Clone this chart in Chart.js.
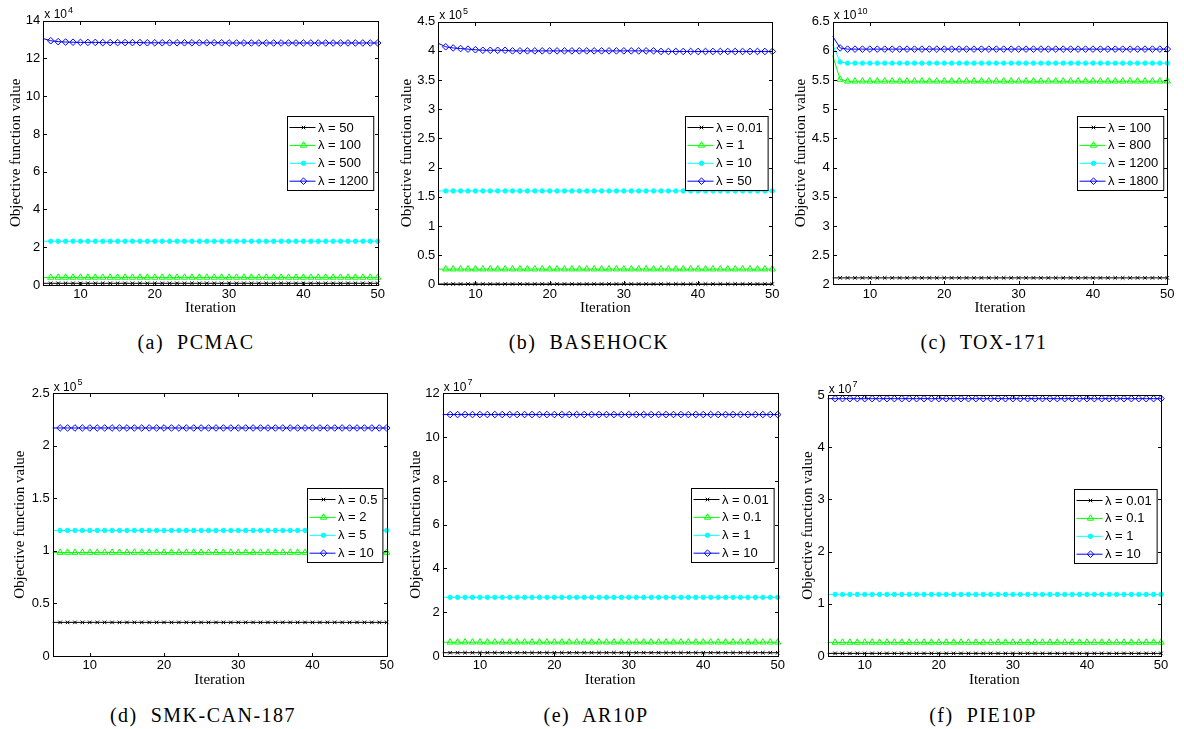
<!DOCTYPE html>
<html>
<head>
<meta charset="utf-8">
<title>Objective function value vs. iteration</title>
<script src="https://cdn.jsdelivr.net/npm/chart.js@4.4.1/dist/chart.umd.min.js"></script>
<style>
  html, body { margin: 0; padding: 0; background: #fff; }
  #page { position: relative; width: 1184px; height: 729px; overflow: hidden; }
  #page canvas { position: absolute; }
  .caption {
    position: absolute; transform: translate(-50%, -50%);
    font-family: 'Liberation Serif', serif; font-size: 20px;
    letter-spacing: 1.5px; white-space: pre; color: #000;
  }
</style>
</head>
<body>
<div id="page"></div>
<script>
// ── Shared axis data ────────────────────────────────────────────────
const iterations = [
  5, 6, 7, 8, 9, 10, 11, 12, 13, 14,
  15, 16, 17, 18, 19, 20, 21, 22, 23, 24,
  25, 26, 27, 28, 29, 30, 31, 32, 33, 34,
  35, 36, 37, 38, 39, 40, 41, 42, 43, 44,
  45, 46, 47, 48, 49, 50,
];
const xTicks = [10, 20, 30, 40, 50];

// ── (a) PCMAC, values x 10^4 ────────────────────────────────────────
const pcmacLambdas = [50, 100, 500, 1200];
const pcmacYTicks = [0, 2, 4, 6, 8, 10, 12, 14];
const pcmacLam50 = [
  0.09, 0.09, 0.09, 0.09, 0.09, 0.09, 0.09, 0.09, 0.09, 0.09,
  0.09, 0.09, 0.09, 0.09, 0.09, 0.09, 0.09, 0.09, 0.09, 0.09,
  0.09, 0.09, 0.09, 0.09, 0.09, 0.09, 0.09, 0.09, 0.09, 0.09,
  0.09, 0.09, 0.09, 0.09, 0.09, 0.09, 0.09, 0.09, 0.09, 0.09,
  0.09, 0.09, 0.09, 0.09, 0.09, 0.09,
];
const pcmacLam100 = [
  0.40, 0.40, 0.40, 0.40, 0.40, 0.40, 0.40, 0.40, 0.40, 0.40,
  0.40, 0.40, 0.40, 0.40, 0.40, 0.40, 0.40, 0.40, 0.40, 0.40,
  0.40, 0.40, 0.40, 0.40, 0.40, 0.40, 0.40, 0.40, 0.40, 0.40,
  0.40, 0.40, 0.40, 0.40, 0.40, 0.40, 0.40, 0.40, 0.40, 0.40,
  0.40, 0.40, 0.40, 0.40, 0.40, 0.40,
];
const pcmacLam500 = [
  2.32, 2.32, 2.32, 2.32, 2.32, 2.32, 2.32, 2.32, 2.32, 2.32,
  2.32, 2.32, 2.32, 2.32, 2.32, 2.32, 2.32, 2.32, 2.32, 2.32,
  2.32, 2.32, 2.32, 2.32, 2.32, 2.32, 2.32, 2.32, 2.32, 2.32,
  2.32, 2.32, 2.32, 2.32, 2.32, 2.32, 2.32, 2.32, 2.32, 2.32,
  2.32, 2.32, 2.32, 2.32, 2.32, 2.32,
];
const pcmacLam1200 = [
  13.05, 12.94, 12.89, 12.87, 12.86, 12.85, 12.85, 12.85, 12.84, 12.84,
  12.84, 12.84, 12.84, 12.84, 12.83, 12.83, 12.83, 12.83, 12.83, 12.83,
  12.83, 12.83, 12.83, 12.83, 12.83, 12.82, 12.82, 12.82, 12.82, 12.82,
  12.82, 12.82, 12.82, 12.82, 12.82, 12.82, 12.82, 12.82, 12.82, 12.82,
  12.82, 12.82, 12.82, 12.82, 12.82, 12.82,
];

// ── (b) BASEHOCK, values x 10^5 ─────────────────────────────────────
const basehockLambdas = [0.01, 1, 10, 50];
const basehockYTicks = [0, 0.5, 1, 1.5, 2, 2.5, 3, 3.5, 4, 4.5];
const basehockLam001 = [
  0.005, 0.005, 0.005, 0.005, 0.005, 0.005, 0.005, 0.005, 0.005, 0.005,
  0.005, 0.005, 0.005, 0.005, 0.005, 0.005, 0.005, 0.005, 0.005, 0.005,
  0.005, 0.005, 0.005, 0.005, 0.005, 0.005, 0.005, 0.005, 0.005, 0.005,
  0.005, 0.005, 0.005, 0.005, 0.005, 0.005, 0.005, 0.005, 0.005, 0.005,
  0.005, 0.005, 0.005, 0.005, 0.005, 0.005,
];
const basehockLam1 = [
  0.26, 0.26, 0.26, 0.26, 0.26, 0.26, 0.26, 0.26, 0.26, 0.26,
  0.26, 0.26, 0.26, 0.26, 0.26, 0.26, 0.26, 0.26, 0.26, 0.26,
  0.26, 0.26, 0.26, 0.26, 0.26, 0.26, 0.26, 0.26, 0.26, 0.26,
  0.26, 0.26, 0.26, 0.26, 0.26, 0.26, 0.26, 0.26, 0.26, 0.26,
  0.26, 0.26, 0.26, 0.26, 0.26, 0.26,
];
const basehockLam10 = [
  1.60, 1.60, 1.60, 1.60, 1.60, 1.60, 1.60, 1.60, 1.60, 1.60,
  1.60, 1.60, 1.60, 1.60, 1.60, 1.60, 1.60, 1.60, 1.60, 1.60,
  1.60, 1.60, 1.60, 1.60, 1.60, 1.60, 1.60, 1.60, 1.60, 1.60,
  1.60, 1.60, 1.60, 1.60, 1.60, 1.60, 1.60, 1.60, 1.60, 1.60,
  1.60, 1.60, 1.60, 1.60, 1.60, 1.60,
];
const basehockLam50 = [
  4.13, 4.07, 4.05, 4.04, 4.03, 4.02, 4.01, 4.01, 4.01, 4.01,
  4.00, 4.00, 4.00, 4.00, 4.00, 4.00, 4.00, 4.00, 4.00, 4.00,
  4.00, 4.00, 4.00, 4.00, 4.00, 4.00, 4.00, 4.00, 4.00, 4.00,
  3.99, 3.99, 3.99, 3.99, 3.99, 3.99, 3.99, 3.99, 3.99, 3.99,
  3.99, 3.99, 3.99, 3.99, 3.99, 3.99,
];

// ── (c) TOX-171, values x 10^10 ─────────────────────────────────────
const toxLambdas = [100, 800, 1200, 1800];
const toxYTicks = [2, 2.5, 3, 3.5, 4, 4.5, 5, 5.5, 6, 6.5];
const toxLam100 = [
  2.11, 2.11, 2.11, 2.11, 2.11, 2.11, 2.11, 2.11, 2.11, 2.11,
  2.11, 2.11, 2.11, 2.11, 2.11, 2.11, 2.11, 2.11, 2.11, 2.11,
  2.11, 2.11, 2.11, 2.11, 2.11, 2.11, 2.11, 2.11, 2.11, 2.11,
  2.11, 2.11, 2.11, 2.11, 2.11, 2.11, 2.11, 2.11, 2.11, 2.11,
  2.11, 2.11, 2.11, 2.11, 2.11, 2.11,
];
const toxLam800 = [
  5.92, 5.51, 5.48, 5.48, 5.48, 5.48, 5.48, 5.48, 5.48, 5.48,
  5.48, 5.48, 5.48, 5.48, 5.48, 5.48, 5.48, 5.48, 5.48, 5.48,
  5.48, 5.48, 5.48, 5.48, 5.48, 5.48, 5.48, 5.48, 5.48, 5.48,
  5.48, 5.48, 5.48, 5.48, 5.48, 5.48, 5.48, 5.48, 5.48, 5.48,
  5.48, 5.48, 5.48, 5.48, 5.48, 5.48,
];
const toxLam1200 = [
  6.11, 5.81, 5.79, 5.79, 5.79, 5.79, 5.79, 5.79, 5.79, 5.79,
  5.79, 5.79, 5.79, 5.79, 5.79, 5.79, 5.79, 5.79, 5.79, 5.79,
  5.79, 5.79, 5.79, 5.79, 5.79, 5.79, 5.79, 5.79, 5.79, 5.79,
  5.79, 5.79, 5.79, 5.79, 5.79, 5.79, 5.79, 5.79, 5.79, 5.79,
  5.79, 5.79, 5.79, 5.79, 5.79, 5.79,
];
const toxLam1800 = [
  6.25, 6.05, 6.03, 6.03, 6.03, 6.03, 6.03, 6.03, 6.03, 6.03,
  6.03, 6.03, 6.03, 6.03, 6.03, 6.03, 6.03, 6.03, 6.03, 6.03,
  6.03, 6.03, 6.03, 6.03, 6.03, 6.03, 6.03, 6.03, 6.03, 6.03,
  6.03, 6.03, 6.03, 6.03, 6.03, 6.03, 6.03, 6.03, 6.03, 6.03,
  6.03, 6.03, 6.03, 6.03, 6.03, 6.03,
];

// ── (d) SMK-CAN-187, values x 10^5 ──────────────────────────────────
const smkLambdas = [0.5, 2, 5, 10];
const smkYTicks = [0, 0.5, 1, 1.5, 2, 2.5];
const smkLam05 = [
  0.32, 0.32, 0.32, 0.32, 0.32, 0.32, 0.32, 0.32, 0.32, 0.32,
  0.32, 0.32, 0.32, 0.32, 0.32, 0.32, 0.32, 0.32, 0.32, 0.32,
  0.32, 0.32, 0.32, 0.32, 0.32, 0.32, 0.32, 0.32, 0.32, 0.32,
  0.32, 0.32, 0.32, 0.32, 0.32, 0.32, 0.32, 0.32, 0.32, 0.32,
  0.32, 0.32, 0.32, 0.32, 0.32, 0.32,
];
const smkLam2 = [
  0.985, 0.985, 0.985, 0.985, 0.985, 0.985, 0.985, 0.985, 0.985, 0.985,
  0.985, 0.985, 0.985, 0.985, 0.985, 0.985, 0.985, 0.985, 0.985, 0.985,
  0.985, 0.985, 0.985, 0.985, 0.985, 0.985, 0.985, 0.985, 0.985, 0.985,
  0.985, 0.985, 0.985, 0.985, 0.985, 0.985, 0.985, 0.985, 0.985, 0.985,
  0.985, 0.985, 0.985, 0.985, 0.985, 0.985,
];
const smkLam5 = [
  1.195, 1.195, 1.195, 1.195, 1.195, 1.195, 1.195, 1.195, 1.195, 1.195,
  1.195, 1.195, 1.195, 1.195, 1.195, 1.195, 1.195, 1.195, 1.195, 1.195,
  1.195, 1.195, 1.195, 1.195, 1.195, 1.195, 1.195, 1.195, 1.195, 1.195,
  1.195, 1.195, 1.195, 1.195, 1.195, 1.195, 1.195, 1.195, 1.195, 1.195,
  1.195, 1.195, 1.195, 1.195, 1.195, 1.195,
];
const smkLam10 = [
  2.17, 2.17, 2.17, 2.17, 2.17, 2.17, 2.17, 2.17, 2.17, 2.17,
  2.17, 2.17, 2.17, 2.17, 2.17, 2.17, 2.17, 2.17, 2.17, 2.17,
  2.17, 2.17, 2.17, 2.17, 2.17, 2.17, 2.17, 2.17, 2.17, 2.17,
  2.17, 2.17, 2.17, 2.17, 2.17, 2.17, 2.17, 2.17, 2.17, 2.17,
  2.17, 2.17, 2.17, 2.17, 2.17, 2.17,
];

// ── (e) AR10P, values x 10^7 ────────────────────────────────────────
const arLambdas = [0.01, 0.1, 1, 10];
const arYTicks = [0, 2, 4, 6, 8, 10, 12];
const arLam001 = [
  0.15, 0.15, 0.15, 0.15, 0.15, 0.15, 0.15, 0.15, 0.15, 0.15,
  0.15, 0.15, 0.15, 0.15, 0.15, 0.15, 0.15, 0.15, 0.15, 0.15,
  0.15, 0.15, 0.15, 0.15, 0.15, 0.15, 0.15, 0.15, 0.15, 0.15,
  0.15, 0.15, 0.15, 0.15, 0.15, 0.15, 0.15, 0.15, 0.15, 0.15,
  0.15, 0.15, 0.15, 0.15, 0.15, 0.15,
];
const arLam01 = [
  0.63, 0.63, 0.63, 0.63, 0.63, 0.63, 0.63, 0.63, 0.63, 0.63,
  0.63, 0.63, 0.63, 0.63, 0.63, 0.63, 0.63, 0.63, 0.63, 0.63,
  0.63, 0.63, 0.63, 0.63, 0.63, 0.63, 0.63, 0.63, 0.63, 0.63,
  0.63, 0.63, 0.63, 0.63, 0.63, 0.63, 0.63, 0.63, 0.63, 0.63,
  0.63, 0.63, 0.63, 0.63, 0.63, 0.63,
];
const arLam1 = [
  2.68, 2.68, 2.68, 2.68, 2.68, 2.68, 2.68, 2.68, 2.68, 2.68,
  2.68, 2.68, 2.68, 2.68, 2.68, 2.68, 2.68, 2.68, 2.68, 2.68,
  2.68, 2.68, 2.68, 2.68, 2.68, 2.68, 2.68, 2.68, 2.68, 2.68,
  2.68, 2.68, 2.68, 2.68, 2.68, 2.68, 2.68, 2.68, 2.68, 2.68,
  2.68, 2.68, 2.68, 2.68, 2.68, 2.68,
];
const arLam10 = [
  11.03, 11.03, 11.03, 11.03, 11.03, 11.03, 11.03, 11.03, 11.03, 11.03,
  11.03, 11.03, 11.03, 11.03, 11.03, 11.03, 11.03, 11.03, 11.03, 11.03,
  11.03, 11.03, 11.03, 11.03, 11.03, 11.03, 11.03, 11.03, 11.03, 11.03,
  11.03, 11.03, 11.03, 11.03, 11.03, 11.03, 11.03, 11.03, 11.03, 11.03,
  11.03, 11.03, 11.03, 11.03, 11.03, 11.03,
];

// ── (f) PIE10P, values x 10^7 ───────────────────────────────────────
const pieLambdas = [0.01, 0.1, 1, 10];
const pieYTicks = [0, 1, 2, 3, 4, 5];
const pieLam001 = [
  0.05, 0.05, 0.05, 0.05, 0.05, 0.05, 0.05, 0.05, 0.05, 0.05,
  0.05, 0.05, 0.05, 0.05, 0.05, 0.05, 0.05, 0.05, 0.05, 0.05,
  0.05, 0.05, 0.05, 0.05, 0.05, 0.05, 0.05, 0.05, 0.05, 0.05,
  0.05, 0.05, 0.05, 0.05, 0.05, 0.05, 0.05, 0.05, 0.05, 0.05,
  0.05, 0.05, 0.05, 0.05, 0.05, 0.05,
];
const pieLam01 = [
  0.26, 0.26, 0.26, 0.26, 0.26, 0.26, 0.26, 0.26, 0.26, 0.26,
  0.26, 0.26, 0.26, 0.26, 0.26, 0.26, 0.26, 0.26, 0.26, 0.26,
  0.26, 0.26, 0.26, 0.26, 0.26, 0.26, 0.26, 0.26, 0.26, 0.26,
  0.26, 0.26, 0.26, 0.26, 0.26, 0.26, 0.26, 0.26, 0.26, 0.26,
  0.26, 0.26, 0.26, 0.26, 0.26, 0.26,
];
const pieLam1 = [
  1.18, 1.18, 1.18, 1.18, 1.18, 1.18, 1.18, 1.18, 1.18, 1.18,
  1.18, 1.18, 1.18, 1.18, 1.18, 1.18, 1.18, 1.18, 1.18, 1.18,
  1.18, 1.18, 1.18, 1.18, 1.18, 1.18, 1.18, 1.18, 1.18, 1.18,
  1.18, 1.18, 1.18, 1.18, 1.18, 1.18, 1.18, 1.18, 1.18, 1.18,
  1.18, 1.18, 1.18, 1.18, 1.18, 1.18,
];
const pieLam10 = [
  4.93, 4.93, 4.93, 4.93, 4.93, 4.93, 4.93, 4.93, 4.93, 4.93,
  4.93, 4.93, 4.93, 4.93, 4.93, 4.93, 4.93, 4.93, 4.93, 4.93,
  4.93, 4.93, 4.93, 4.93, 4.93, 4.93, 4.93, 4.93, 4.93, 4.93,
  4.93, 4.93, 4.93, 4.93, 4.93, 4.93, 4.93, 4.93, 4.93, 4.93,
  4.93, 4.93, 4.93, 4.93, 4.93, 4.93,
];

// ── Panels (data references) ────────────────────────────────────────
const PANELS = [
  { caption: '(a)  PCMAC', exponent: '4', lambdas: pcmacLambdas, yTicks: pcmacYTicks,
    series: [pcmacLam50, pcmacLam100, pcmacLam500, pcmacLam1200] },
  { caption: '(b)  BASEHOCK', exponent: '5', lambdas: basehockLambdas, yTicks: basehockYTicks,
    series: [basehockLam001, basehockLam1, basehockLam10, basehockLam50] },
  { caption: '(c)  TOX-171', exponent: '10', lambdas: toxLambdas, yTicks: toxYTicks,
    series: [toxLam100, toxLam800, toxLam1200, toxLam1800] },
  { caption: '(d)  SMK-CAN-187', exponent: '5', lambdas: smkLambdas, yTicks: smkYTicks,
    series: [smkLam05, smkLam2, smkLam5, smkLam10] },
  { caption: '(e)  AR10P', exponent: '7', lambdas: arLambdas, yTicks: arYTicks,
    series: [arLam001, arLam01, arLam1, arLam10] },
  { caption: '(f)  PIE10P', exponent: '7', lambdas: pieLambdas, yTicks: pieYTicks,
    series: [pieLam001, pieLam01, pieLam1, pieLam10] },
];

// ── Layout (page pixels: plot box, title centres, caption centre) ───
const LAYOUT = [
  { L: 43.3,  T: 20.7,  R: 377.7,  B: 285.0, yTitleX: 15.5,  xTitleY: 308.3, capX: 196, capY: 342 },
  { L: 438.3, T: 21.7,  R: 772.3,  B: 284.3, yTitleX: 407.0, xTitleY: 308.3, capX: 589, capY: 342 },
  { L: 832.7, T: 21.7,  R: 1167.3, B: 284.3, yTitleX: 801.0, xTitleY: 308.3, capX: 984, capY: 342 },
  { L: 52.7,  T: 393.3, R: 386.7,  B: 656.0, yTitleX: 20.3,  xTitleY: 680.0, capX: 203, capY: 715 },
  { L: 442.7, T: 393.3, R: 777.7,  B: 656.0, yTitleX: 415.8, xTitleY: 680.0, capX: 596, capY: 715 },
  { L: 827.7, T: 395.0, R: 1161.0, B: 656.0, yTitleX: 807.5, xTitleY: 680.0, capX: 983, capY: 715 },
];

// ── Series styles (MATLAB -x, -^, -., -d) ───────────────────────────
const SERIES_STYLE = [
  { color: '#000000', pointStyle: 'crossRot', radius: 2.5, filled: false },
  { color: '#00ff00', pointStyle: 'triangle', radius: 3.6, filled: false },
  { color: '#00ffff', pointStyle: 'circle',   radius: 2.2, filled: true },
  { color: '#0000ff', pointStyle: 'rectRot',  radius: 3.3, filled: false },
];

const SANS = "'Liberation Sans', Arial, sans-serif";
const SERIF = "'Liberation Serif', 'Times New Roman', serif";
const TICK_LEN = 3.5;

// ── Box, inward ticks, exponent and legend (MATLAB look) ────────────
function drawMarker(ctx, style, x, y) {
  const h = Chart.helpers;
  ctx.fillStyle = style.filled ? style.color : 'rgba(0,0,0,0)';
  ctx.strokeStyle = style.color;
  ctx.lineWidth = 1;
  if (h && h.drawPoint) {
    h.drawPoint(ctx, { pointStyle: style.pointStyle, radius: style.radius, borderWidth: 1, rotation: 0 }, x, y);
  }
}

const matlabAxes = {
  id: 'matlabAxes',
  afterDatasetsDraw(chart, args, opts) {
    const { ctx, chartArea: a, scales: { x, y } } = chart;
    const l = Math.round(a.left) + 0.5, r = Math.round(a.right) + 0.5;
    const t = Math.round(a.top) + 0.5, b = Math.round(a.bottom) + 0.5;
    ctx.save();
    ctx.strokeStyle = '#000';
    ctx.lineWidth = 1;
    ctx.strokeRect(l, t, r - l, b - t);

    ctx.beginPath();
    x.ticks.forEach(tk => {
      const px = Math.round(x.getPixelForValue(tk.value)) + 0.5;
      ctx.moveTo(px, b); ctx.lineTo(px, b - TICK_LEN);
      ctx.moveTo(px, t); ctx.lineTo(px, t + TICK_LEN);
    });
    y.ticks.forEach(tk => {
      const py = Math.round(y.getPixelForValue(tk.value)) + 0.5;
      ctx.moveTo(l, py); ctx.lineTo(l + TICK_LEN, py);
      ctx.moveTo(r, py); ctx.lineTo(r - TICK_LEN, py);
    });
    ctx.stroke();

    // exponent label "x 10^n"
    ctx.fillStyle = '#000';
    ctx.textAlign = 'left';
    ctx.textBaseline = 'alphabetic';
    ctx.font = `12px ${SANS}`;
    ctx.fillText('x 10', a.left + 1, a.top - 2.5);
    const w = ctx.measureText('x 10').width;
    ctx.font = `9px ${SANS}`;
    ctx.fillText(opts.exponent, a.left + 2 + w, a.top - 8);

    // legend box, "East" location
    const sets = chart.data.datasets;
    ctx.font = `13px ${SANS}`;
    const maxW = Math.max(...sets.map(d => ctx.measureText(d.label).width));
    const bw = 30.5 + maxW + 5.5, bh = 74;
    const bx = Math.round(a.right - 4.4 - bw) + 0.5;
    const by = Math.round((a.top + a.bottom) / 2 - bh / 2) + 0.5;
    ctx.fillStyle = '#fff';
    ctx.fillRect(bx, by, bw, bh);
    ctx.strokeStyle = '#000';
    ctx.strokeRect(bx, by, bw, bh);
    sets.forEach((d, i) => {
      const st = SERIES_STYLE[i];
      const cy = by + 11 + i * 17.9;
      ctx.strokeStyle = st.color;
      ctx.lineWidth = 1;
      ctx.beginPath();
      ctx.moveTo(bx + 2, cy); ctx.lineTo(bx + 28, cy);
      ctx.stroke();
      drawMarker(ctx, st, bx + 16, cy);
      ctx.fillStyle = '#000';
      ctx.font = `13px ${SANS}`;
      ctx.textBaseline = 'middle';
      ctx.fillText(d.label, bx + 30.5, cy + 0.5);
    });
    ctx.restore();
  },
};

// ── Build the six panels ────────────────────────────────────────────
const page = document.getElementById('page');

PANELS.forEach((p, k) => {
  const g = LAYOUT[k];
  const cl = Math.round(g.yTitleX - 9);
  const ct = Math.round(g.T - 22);
  const cr = Math.round(g.R + 14);
  const cb = Math.round(g.xTitleY + 9);
  const yAxisW = g.L - cl;
  const xAxisH = cb - g.B;

  const canvas = document.createElement('canvas');
  canvas.width = cr - cl;
  canvas.height = cb - ct;
  canvas.style.left = cl + 'px';
  canvas.style.top = ct + 'px';
  canvas.style.width = (cr - cl) + 'px';
  canvas.style.height = (cb - ct) + 'px';
  page.appendChild(canvas);

  const cap = document.createElement('div');
  cap.className = 'caption';
  cap.textContent = p.caption;
  cap.style.left = g.capX + 'px';
  cap.style.top = g.capY + 'px';
  page.appendChild(cap);

  const datasets = p.series.map((vals, i) => {
    const st = SERIES_STYLE[i];
    return {
      label: `λ = ${p.lambdas[i]}`,
      data: iterations.map((it, j) => ({ x: it, y: vals[j] })),
      borderColor: st.color,
      borderWidth: 1,
      backgroundColor: st.color,
      pointStyle: st.pointStyle,
      pointRadius: c => (c.dataIndex === 0 ? 0 : st.radius),
      pointBorderColor: st.color,
      pointBorderWidth: 1,
      pointBackgroundColor: st.filled ? st.color : 'rgba(0,0,0,0)',
      tension: 0,
      clip: false,
    };
  });

  new Chart(canvas, {
    type: 'line',
    data: { datasets },
    options: {
      responsive: false,
      animation: false,
      devicePixelRatio: 1,
      events: [],
      layout: { padding: { top: g.T - ct, right: cr - g.R, left: 0, bottom: 0 } },
      plugins: {
        legend: { display: false },
        tooltip: { enabled: false },
        matlabAxes: { exponent: p.exponent },
      },
      scales: {
        x: {
          type: 'linear',
          min: iterations[0],
          max: iterations[iterations.length - 1],
          grid: { display: false, drawTicks: false },
          border: { display: false },
          afterBuildTicks: s => { s.ticks = xTicks.map(v => ({ value: v })); },
          afterFit: s => { s.height = xAxisH; },
          ticks: { color: '#000', padding: 2, maxRotation: 0, font: { family: SANS, size: 13 } },
          title: { display: true, text: 'Iteration', color: '#000', padding: 0,
                   font: { family: SERIF, size: 15, lineHeight: 1.2 } },
        },
        y: {
          type: 'linear',
          min: p.yTicks[0],
          max: p.yTicks[p.yTicks.length - 1],
          grid: { display: false, drawTicks: false },
          border: { display: false },
          afterBuildTicks: s => { s.ticks = p.yTicks.map(v => ({ value: v })); },
          afterFit: s => { s.width = yAxisW; },
          ticks: { color: '#000', padding: 3, font: { family: SANS, size: 13 },
                   callback: v => String(v) },
          title: { display: true, text: 'Objective function value', color: '#000', padding: 0,
                   font: { family: SERIF, size: 15, lineHeight: 1.2 } },
        },
      },
    },
    plugins: [matlabAxes],
  });
});
</script>
</body>
</html>
